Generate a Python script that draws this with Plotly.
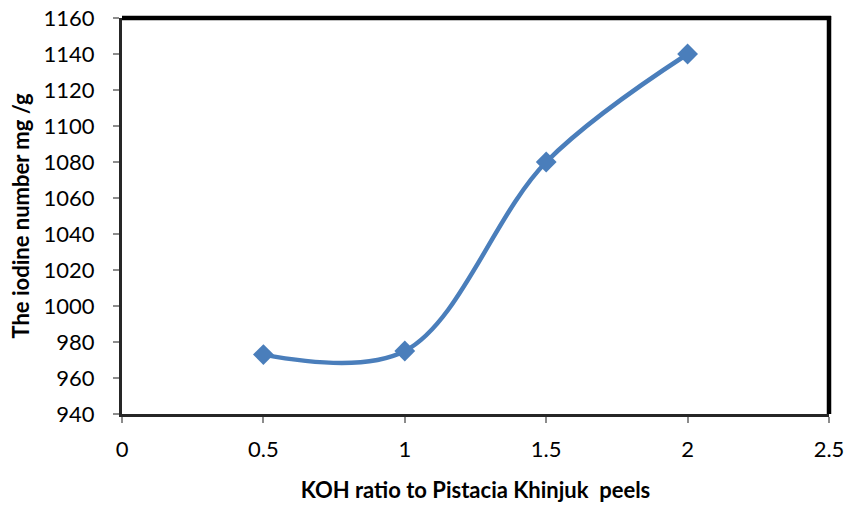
import plotly.graph_objects as go

koh_ratio = [0.5, 1, 1.5, 2]
iodine_number = [973, 975, 1080, 1140]
x_ticks = [0, 0.5, 1, 1.5, 2, 2.5]
x_tick_labels = ["0", "0.5", "1", "1.5", "2", "2.5"]
y_ticks = list(range(940, 1161, 20))

fig = go.Figure()
fig.add_trace(go.Scatter(
    x=koh_ratio, y=iodine_number, mode="lines+markers",
    line=dict(color="#4A7EBB", width=4.5, shape="spline", smoothing=1.0),
    marker=dict(symbol="diamond", size=16, color="#4A7EBB"),
    showlegend=False, cliponaxis=False,
))

font_family = "Lato, Carlito, 'Open Sans', sans-serif"
fig.update_layout(
    width=847, height=507,
    margin=dict(l=122, r=18, t=18, b=93, autoexpand=False),
    plot_bgcolor="white", paper_bgcolor="white",
    font=dict(family=font_family, color="black"),
    xaxis=dict(
        range=[0, 2.5], tickvals=x_ticks, ticktext=x_tick_labels,
        showgrid=False, zeroline=False, automargin=False,
        showline=True, linecolor="#262626", linewidth=3,
        ticks="outside", ticklen=6, tickcolor="#8c8c8c", tickwidth=1.5,
        ticklabelstandoff=8,
        tickfont=dict(size=22),
        title=dict(text="<b>KOH ratio to Pistacia Khinjuk  peels</b>", font=dict(size=22), standoff=22),
    ),
    yaxis=dict(
        range=[940, 1160], tickvals=y_ticks,
        showgrid=False, zeroline=False, automargin=False,
        showline=True, linecolor="#262626", linewidth=3,
        ticks="outside", ticklen=6, tickcolor="#8c8c8c", tickwidth=1.5,
        ticklabelstandoff=14,
        tickfont=dict(size=22),
        title=dict(text="<b>The iodine number mg /g</b>", font=dict(size=22), standoff=8),
    ),
    shapes=[
        dict(type="line", xref="paper", yref="paper", x0=0, x1=1.003, y0=1, y1=1,
             line=dict(color="black", width=4.5)),
        dict(type="line", xref="paper", yref="paper", x0=1, x1=1, y0=0, y1=1.005,
             line=dict(color="black", width=4.5)),
    ],
)

fig.write_html("out.html", config={"displayModeBar": False},
               post_script="document.body.style.margin='0';")
